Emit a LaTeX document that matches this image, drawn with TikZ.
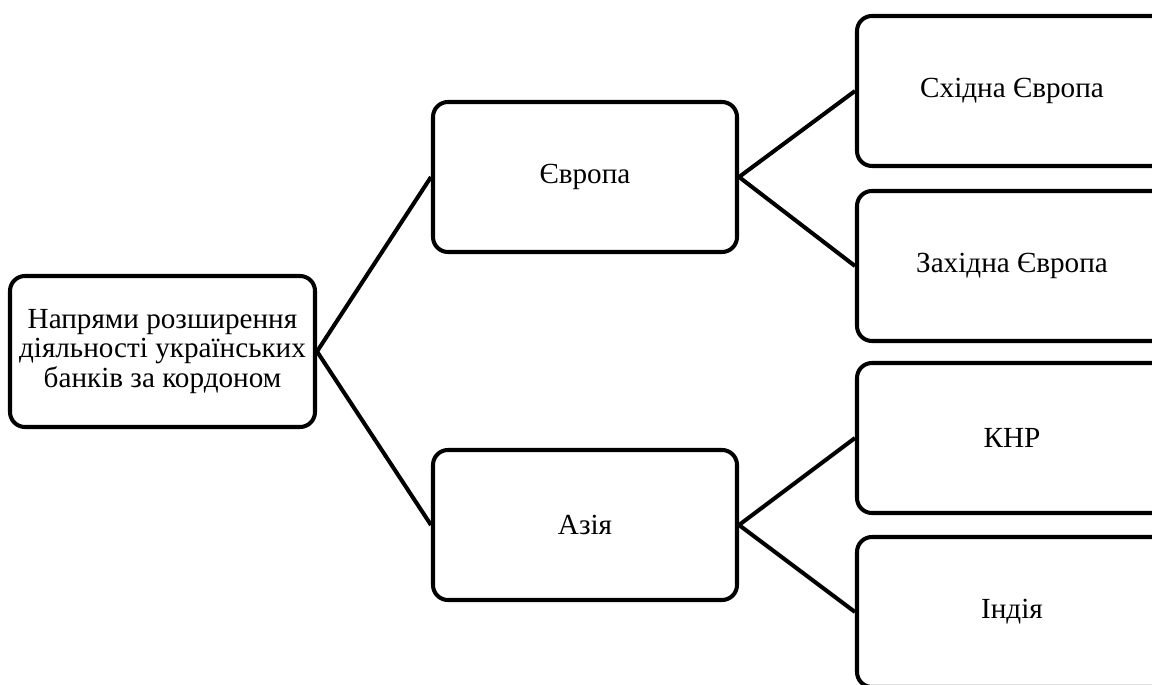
\documentclass[tikz,border=0pt]{standalone}
\usepackage{fontspec}
\setmainfont{Liberation Serif}
\begin{document}
\begin{tikzpicture}[box/.style={draw, line width=2.3pt, rounded corners=3mm, minimum width=6.08cm, minimum height=3cm, inner xsep=1pt, align=center, font=\fontsize{16.6}{17}\selectfont},
    link/.style={line width=2.3pt}]
        \useasboundingbox (0, 0) rectangle (23.04, 13.68);
        \node[box, minimum width=6.1cm, minimum height=3.02cm] (root) at (3.25, 6.65) {Напрями розширення\\діяльності українських\\банків за кордоном};
        \node[box] (eu) at (11.7, 10.14) {Європа};
        \node[box] (as) at (11.7, 3.18) {Азія};
        \foreach \t/\y [count=\i] in {Східна Європа/11.86, Західна Європа/8.36, КНР/4.92, Індія/1.44}{
          \node[box, minimum width=6.2cm] (l\i) at (20.24, \y) {\t};
        }
        \draw[link] (eu.west) -- (root.east) -- (as.west);
        \draw[link] (l1.west) -- (eu.east) -- (l2.west);
        \draw[link] (l3.west) -- (as.east) -- (l4.west);
      \end{tikzpicture}
\end{document}
